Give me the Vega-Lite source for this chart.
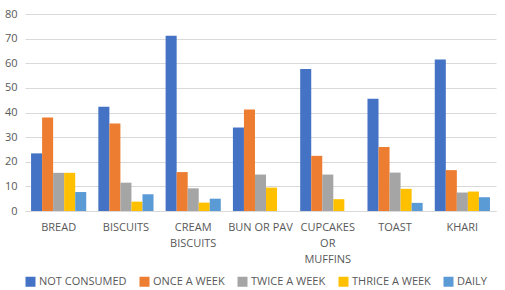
{
  "$schema": "https://vega.github.io/schema/vega-lite/v6.json",
  "width": 505,
  "height": 290,
  "autosize": {"type": "fit", "contains": "padding"},
  "padding": {"left": 4, "top": 8, "right": 9, "bottom": 3},
  "background": "white",
  "data": {
    "values": [
      {"item": "BREAD", "freq": "NOT CONSUMED", "value": 23.4},
      {"item": "BREAD", "freq": "ONCE A WEEK", "value": 38},
      {"item": "BREAD", "freq": "TWICE A WEEK", "value": 15.5},
      {"item": "BREAD", "freq": "THRICE A WEEK", "value": 15.5},
      {"item": "BREAD", "freq": "DAILY", "value": 7.7},
      {"item": "BISCUITS", "freq": "NOT CONSUMED", "value": 42.3},
      {"item": "BISCUITS", "freq": "ONCE A WEEK", "value": 35.5},
      {"item": "BISCUITS", "freq": "TWICE A WEEK", "value": 11.5},
      {"item": "BISCUITS", "freq": "THRICE A WEEK", "value": 3.8},
      {"item": "BISCUITS", "freq": "DAILY", "value": 6.8},
      {"item": "CREAM|BISCUITS", "freq": "NOT CONSUMED", "value": 71.2},
      {"item": "CREAM|BISCUITS", "freq": "ONCE A WEEK", "value": 15.8},
      {"item": "CREAM|BISCUITS", "freq": "TWICE A WEEK", "value": 9.2},
      {"item": "CREAM|BISCUITS", "freq": "THRICE A WEEK", "value": 3.4},
      {"item": "CREAM|BISCUITS", "freq": "DAILY", "value": 5},
      {"item": "BUN OR PAV", "freq": "NOT CONSUMED", "value": 33.9},
      {"item": "BUN OR PAV", "freq": "ONCE A WEEK", "value": 41.2},
      {"item": "BUN OR PAV", "freq": "TWICE A WEEK", "value": 14.8},
      {"item": "BUN OR PAV", "freq": "THRICE A WEEK", "value": 9.5},
      {"item": "BUN OR PAV", "freq": "DAILY", "value": 0},
      {"item": "CUPCAKES|OR|MUFFINS", "freq": "NOT CONSUMED", "value": 57.7},
      {"item": "CUPCAKES|OR|MUFFINS", "freq": "ONCE A WEEK", "value": 22.4},
      {"item": "CUPCAKES|OR|MUFFINS", "freq": "TWICE A WEEK", "value": 14.8},
      {"item": "CUPCAKES|OR|MUFFINS", "freq": "THRICE A WEEK", "value": 4.8},
      {"item": "CUPCAKES|OR|MUFFINS", "freq": "DAILY", "value": 0},
      {"item": "TOAST", "freq": "NOT CONSUMED", "value": 45.6},
      {"item": "TOAST", "freq": "ONCE A WEEK", "value": 26},
      {"item": "TOAST", "freq": "TWICE A WEEK", "value": 15.6},
      {"item": "TOAST", "freq": "THRICE A WEEK", "value": 9},
      {"item": "TOAST", "freq": "DAILY", "value": 3.3},
      {"item": "KHARI", "freq": "NOT CONSUMED", "value": 61.5},
      {"item": "KHARI", "freq": "ONCE A WEEK", "value": 16.6},
      {"item": "KHARI", "freq": "TWICE A WEEK", "value": 7.5},
      {"item": "KHARI", "freq": "THRICE A WEEK", "value": 7.9},
      {"item": "KHARI", "freq": "DAILY", "value": 5.6}
    ]
  },
  "mark": {"type": "bar"},
  "encoding": {
    "x": {
      "field": "item",
      "type": "nominal",
      "sort": null,
      "scale": {"paddingInner": 0.18, "paddingOuter": 0.09},
      "axis": {
        "title": null,
        "labelAngle": 0,
        "labelExpr": "split(datum.label, '|')",
        "labelLineHeight": 16,
        "labelPadding": 10,
        "ticks": false,
        "domainColor": "#D9D9D9",
        "labelFont": "Open Sans",
        "labelFontSize": 11,
        "labelColor": "#595959"
      }
    },
    "xOffset": {
      "field": "freq",
      "type": "nominal",
      "sort": ["NOT CONSUMED", "ONCE A WEEK", "TWICE A WEEK", "THRICE A WEEK", "DAILY"],
      "scale": {"paddingInner": 0, "paddingOuter": 0}
    },
    "y": {
      "field": "value",
      "type": "quantitative",
      "scale": {"domain": [0, 80], "nice": false},
      "axis": {
        "title": null,
        "values": [0, 10, 20, 30, 40, 50, 60, 70, 80],
        "labelOverlap": false,
        "domain": false,
        "ticks": false,
        "gridColor": "#D9D9D9",
        "labelFont": "Open Sans",
        "labelFontSize": 11,
        "labelColor": "#595959",
        "labelPadding": 8
      }
    },
    "color": {
      "field": "freq",
      "type": "nominal",
      "sort": ["NOT CONSUMED", "ONCE A WEEK", "TWICE A WEEK", "THRICE A WEEK", "DAILY"],
      "scale": {
        "domain": ["NOT CONSUMED", "ONCE A WEEK", "TWICE A WEEK", "THRICE A WEEK", "DAILY"],
        "range": ["#4472C4", "#ED7D31", "#A5A5A5", "#FFC000", "#5B9BD5"]
      },
      "legend": {
        "title": null,
        "orient": "bottom",
        "direction": "horizontal",
        "symbolType": "square",
        "symbolSize": 100,
        "symbolStrokeWidth": 0,
        "labelFont": "Open Sans",
        "labelFontSize": 11,
        "labelColor": "#595959",
        "labelOffset": 3,
        "columnPadding": 12,
        "offset": 12
      }
    }
  },
  "config": {
    "view": {"stroke": null}
  }
}
